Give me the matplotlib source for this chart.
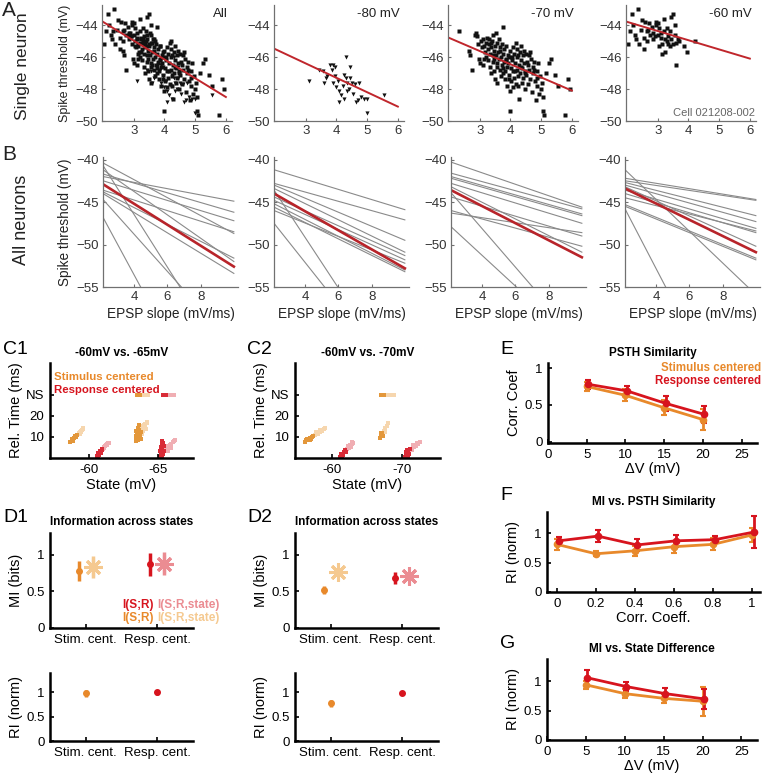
import matplotlib
matplotlib.use('Agg')
import matplotlib.pyplot as plt
import numpy as np

plt.rcParams['font.family'] = ['Liberation Sans', 'DejaVu Sans']

# ------------------------------------------------------------------ DATA
# Row A: single neuron scatter (EPSP slope, spike threshold)
x80 = [3.10, 3.45, 3.55, 3.60, 3.65, 3.80, 3.85, 3.90, 3.95, 3.70, 3.90, 4.00, 4.05, 4.10, 4.15, 4.20, 4.25,
       4.30, 4.30, 4.35, 4.40, 4.45, 4.45, 4.50, 4.55, 4.60, 4.65, 4.70, 4.75, 4.80, 4.90, 5.00, 5.00, 5.55,
       4.25, 4.10, 4.35, 3.95]
y80 = [-47.5, -46.8, -46.9, -47.6, -47.3, -46.5, -46.8, -46.5, -46.6, -47.2, -47.6, -47.9, -47.5, -48.1, -48.4,
       -47.8, -47.1, -47.3, -46.0, -47.6, -48.0, -46.6, -47.3, -47.6, -48.3, -47.7, -48.8, -48.7, -47.6, -48.5,
       -48.6, -49.5, -48.6, -48.4, -48.6, -48.8, -48.1, -47.2]

x70 = [2.33, 2.65, 2.70, 2.76, 2.85, 2.88, 2.90, 2.95, 2.98, 3.00,
       3.05, 3.08, 3.10, 3.12, 3.15, 3.18, 3.20, 3.22, 3.25, 3.27,
       3.28, 3.30, 3.32, 3.33, 3.35, 3.37, 3.38, 3.40, 3.42, 3.43,
       3.45, 3.47, 3.48, 3.50, 3.50,
       3.52, 3.53, 3.55, 3.57, 3.58, 3.60, 3.62, 3.63, 3.65, 3.67,
       3.68, 3.70, 3.72, 3.73, 3.75, 3.75, 3.77, 3.78, 3.80, 3.82,
       3.83, 3.85, 3.87, 3.88, 3.90, 3.92, 3.93, 3.95, 3.97, 3.98, 3.99,
       4.00, 4.02, 4.03, 4.05, 4.07, 4.08, 4.10, 4.12, 4.13, 4.15,
       4.17, 4.18, 4.20, 4.22, 4.23, 4.25, 4.27, 4.28, 4.30, 4.32,
       4.33, 4.35, 4.37, 4.38, 4.40, 4.42, 4.43, 4.45, 4.47, 4.48,
       4.50, 4.52, 4.55, 4.57, 4.60, 4.62, 4.65, 4.67, 4.70, 4.72,
       4.75, 4.78, 4.80, 4.83, 4.85, 4.88, 4.90, 4.92, 4.95, 4.98,
       5.02, 5.05, 5.07, 5.10, 5.15, 5.25, 5.32, 5.45, 5.55, 5.77, 5.88, 5.95,
       3.14, 3.36, 3.58, 3.66, 3.86, 3.94, 4.06, 4.16, 4.26, 4.36, 4.46, 4.56, 4.64, 4.76, 4.86, 3.46, 3.76, 4.24]
y70 = [-44.4, -45.6, -45.9, -46.8, -44.6, -44.5, -44.7, -45.2, -46.1, -46.4,
       -45.0, -45.4, -46.5, -44.9, -45.3, -45.7, -45.1, -46.0, -44.8, -45.5,
       -46.2, -45.2, -44.9, -45.8, -46.6, -45.4, -47.0, -45.0, -45.9, -46.3,
       -44.6, -45.6, -46.9, -45.3, -47.4,
       -44.5, -45.9, -46.4, -45.1, -47.6, -45.7, -46.1, -44.9, -46.8, -45.4,
       -47.2, -46.0, -45.2, -46.5, -44.1, -47.0, -45.8, -46.3, -45.5, -46.9,
       -47.4, -46.1, -45.3, -46.6, -47.8, -45.9, -46.4, -47.1, -46.0, -49.4, -48.1,
       -45.6, -46.7, -47.5, -46.2, -45.4, -47.9, -46.9, -45.8, -47.3, -46.4,
       -45.1, -47.7, -46.0, -46.8, -45.5, -47.2, -46.5, -48.6, -45.7, -47.0,
       -46.2, -45.3, -47.6, -46.7, -45.9, -47.3, -46.4, -45.6, -48.0, -46.9,
       -45.8, -47.1, -46.3, -47.7, -45.9, -46.8, -47.4, -46.1, -48.2, -46.6,
       -47.0, -46.3, -47.5, -48.7, -46.9, -47.8, -46.4, -48.3, -47.2, -48.0,
       -47.6, -48.5, -49.4, -49.6, -47.0, -46.4, -46.1, -47.1, -47.8, -49.6, -47.4, -48.0,
       -46.1, -45.1, -46.6, -45.6, -46.2, -47.4, -46.0, -46.9, -45.9, -46.6, -47.0, -46.5, -45.7, -46.8, -47.3,
       -46.1, -46.7, -47.8]

x60 = [2.05, 2.10, 2.15, 2.20, 2.25, 2.30, 2.35, 2.40, 2.45, 2.50, 2.55, 2.55, 2.60, 2.65, 2.70, 2.72, 2.75,
       2.80, 2.85, 2.90, 2.95, 3.00, 3.00, 3.05, 3.05, 3.10, 3.12, 3.15, 3.15, 3.20, 3.20, 3.25, 3.25, 3.30,
       3.30, 3.35, 3.40, 3.40, 3.45, 3.45, 3.50, 3.50, 3.55, 3.55, 3.60, 3.60, 3.65, 3.70, 3.85, 3.95, 4.20,
       2.85, 2.95, 3.35, 2.65]
y60 = [-45.2, -44.4, -43.3, -44.0, -44.6, -44.9, -43.0, -45.2, -44.3, -43.7, -45.5, -44.8, -43.8, -45.0, -44.3,
       -43.9, -44.6, -44.1, -44.5, -44.7, -43.8, -44.6, -43.9, -44.2, -45.3, -44.8, -44.5, -45.2, -45.8, -43.6,
       -44.4, -44.9, -45.7, -44.2, -45.0, -44.7, -44.4, -45.3, -43.5, -44.9, -43.3, -45.2, -44.0, -44.6, -45.1,
       -46.5, -44.9, -45.0, -45.3, -45.7, -45.0, -44.9, -44.0, -45.2, -44.4]

panelA_titles = ['All', '-80 mV', '-70 mV', '-60 mV']
fitA_x = [2, 6]
fitA_y0 = [-43.8, -45.5, -44.8, -43.8]
fitA_y1 = [-48.5, -49.1, -48.1, -46.1]

# Row B: population regression lines (threshold at slope xB0 and xB1)
xB0, xB1 = 2.12, 10.0
b_gray_start = [
    [-40.4, -40.7, -41.2, -41.7, -42.0, -42.5, -43.6, -44.0, -44.7, -46.8, -43.8],
    [-41.2, -42.8, -43.0, -43.4, -44.4, -44.8, -45.2, -45.6, -46.0, -47.5, -43.6],
    [-40.3, -41.6, -42.0, -42.2, -42.8, -43.2, -43.9, -44.4, -46.0, -46.3, -47.9],
    [-41.2, -42.2, -42.5, -42.7, -43.0, -43.6, -44.5, -45.3, -45.5, -45.8, -44.0, -43.2],
]
b_gray_end = [
    [-48.7, -65.0, -52.0, -46.2, -44.9, -47.2, -48.5, -53.4, -61.9, -75.3, -51.6],
    [-45.9, -47.1, -49.5, -50.9, -51.3, -51.8, -53.0, -53.2, -52.2, -66.9, -67.0],
    [-45.6, -45.8, -46.4, -46.6, -47.5, -50.9, -61.7, -49.0, -50.2, -48.6, -62.1],
    [-55.9, -44.7, -44.8, -46.6, -47.3, -48.1, -48.4, -51.6, -51.8, -75.4, -48.6, -50.2],
]
b_red_start = [-42.9, -44.0, -43.6, -43.4]
b_red_end = [-52.6, -52.8, -51.5, -50.9]

# C panels: state (mV) vs relative time (ms); NS plotted at 30
c1_or_dark_x = [-58.6, -58.7, -58.75, -58.8, -58.85, -58.9, -58.95, -59.0, -58.8, -59.05,
                -63.4, -63.45, -63.5, -63.4, -63.55, -63.6, -63.5, -63.45, -63.55, -63.6, -63.7, -63.65, -63.8, -63.75,
                -63.5, -63.7]
c1_or_dark_y = [7.8, 8.3, 8.8, 9.0, 9.5, 9.8, 10.3, 10.0, 8.0, 10.8,
                8.0, 9.0, 10.0, 10.5, 8.5, 9.5, 12.0, 13.0, 14.0, 15.5, 11.0, 13.5, 9.2, 12.5,
                30, 30]
c1_or_light_x = [-59.1, -59.2, -59.25, -59.3, -59.35, -59.4, -59.45, -59.5, -59.3, -59.55,
                 -63.8, -63.9, -64.0, -64.1, -64.2, -63.9, -64.0, -64.1, -63.85, -64.25, -64.15,
                 -63.9, -64.1, -64.3]
c1_or_light_y = [11.0, 11.6, 12.0, 12.5, 12.2, 13.0, 13.5, 13.8, 11.5, 14.2,
                 14.0, 15.0, 15.5, 16.0, 16.5, 13.0, 14.3, 15.2, 11.5, 17.0, 13.8,
                 30, 30, 30]
c1_rd_dark_x = [-60.55, -60.6, -60.65, -60.7, -60.75, -60.8, -60.85, -60.9, -60.6, -60.95,
                -65.2, -65.25, -65.3, -65.2, -65.35, -65.4, -65.3, -65.25, -65.35, -65.4, -65.3, -65.45, -65.5,
                -65.4, -65.6]
c1_rd_dark_y = [0.8, 1.5, 2.2, 1.2, 2.8, 3.3, 2.5, 3.8, 0.5, 4.2,
                0.5, 1.5, 2.5, 3.2, 1.0, 2.0, 4.0, 5.0, 6.0, 7.0, 8.0, 3.5, 5.5,
                30, 30]
c1_rd_light_x = [-61.0, -61.05, -61.1, -61.15, -61.2, -61.25, -61.3, -61.35, -61.1, -61.4,
                 -65.6, -65.7, -65.8, -65.9, -66.0, -66.1, -66.2, -66.3, -65.75, -65.95,
                 -65.8, -66.0, -66.2]
c1_rd_light_y = [4.5, 5.0, 4.8, 5.6, 6.0, 6.5, 6.2, 7.0, 5.4, 7.3,
                 4.0, 5.0, 5.5, 6.2, 6.8, 7.5, 8.0, 8.6, 3.2, 4.8,
                 30, 30, 30]

c2_or_dark_x = [-56.1, -56.3, -56.5, -56.7, -56.9, -57.1, -56.4, -56.8, -57.3, -57.0,
                -66.9, -67.0, -67.1, -67.0, -67.2, -67.1, -67.0, -67.4]
c2_or_dark_y = [7.8, 8.3, 8.8, 9.2, 9.6, 10.0, 9.2, 8.5, 10.4, 9.0,
                9.5, 10.2, 11.0, 12.0, 10.6, 11.8, 30, 30]
c2_or_light_x = [-57.5, -57.8, -58.0, -58.2, -58.5, -58.8, -57.7, -58.3, -59.0, -58.0,
                 -67.4, -67.6, -67.8, -68.0, -67.5, -67.9, -68.4, -68.8]
c2_or_light_y = [11.0, 11.5, 12.0, 12.5, 13.0, 13.8, 12.2, 13.2, 14.2, 11.2,
                 13.0, 14.0, 15.2, 16.5, 12.5, 30, 30, 30]
c2_rd_dark_x = [-61.1, -61.3, -61.5, -61.4, -61.7, -61.8, -61.6, -61.9, -61.2, -62.0,
                -70.4, -70.6, -70.8, -70.5, -71.0, -70.7, -71.1, -70.9]
c2_rd_dark_y = [0.6, 1.3, 2.0, 0.9, 2.8, 3.5, 1.6, 4.0, 1.8, 3.0,
                0.6, 1.4, 2.2, 3.0, 2.0, 3.8, 4.5, 0.9]
c2_rd_light_x = [-62.1, -62.3, -62.5, -62.6, -62.8, -63.0, -62.4, -62.7, -62.2, -62.9,
                 -71.4, -71.7, -72.0, -72.3, -72.6, -71.5, -72.1]
c2_rd_light_y = [4.3, 5.0, 5.5, 6.0, 6.6, 7.3, 4.6, 5.4, 5.7, 7.6,
                 4.0, 5.0, 5.6, 6.5, 7.5, 6.0, 7.2]

# D panels
d_cats = ['Stim. cent.', 'Resp. cent.']
d1_mi = [0.78, 0.83, 0.87, 0.88]          # I(S;R) stim, I(S;R,state) stim, I(S;R) resp, I(S;R,state) resp
d1_mi_err = [0.14, 0.15, 0.155, 0.155]
d2_mi = [0.52, 0.76, 0.68, 0.71]
d2_mi_err = [0.05, 0.05, 0.08, 0.05]
d1_ri = [0.985, 1.0]
d1_ri_err = [0.07, 0.045]
d2_ri = [0.775, 0.985]
d2_ri_err = [0.07, 0.03]

# E, F, G
dV = [5, 10, 15, 20]
e_stim = [0.75, 0.63, 0.46, 0.30]
e_stim_err = [0.06, 0.08, 0.10, 0.14]
e_resp = [0.78, 0.69, 0.52, 0.37]
e_resp_err = [0.06, 0.07, 0.10, 0.12]

cc = [0, 0.2, 0.4, 0.6, 0.8, 1.0]
f_stim = [0.81, 0.65, 0.70, 0.77, 0.81, 0.97]
f_stim_err = [0.09, 0.04, 0.09, 0.10, 0.10, 0.12]
f_resp = [0.87, 0.95, 0.80, 0.87, 0.89, 1.02]
f_resp_err = [0.06, 0.10, 0.10, 0.10, 0.06, 0.28]

g_stim = [0.94, 0.79, 0.71, 0.66]
g_stim_err = [0.07, 0.08, 0.08, 0.25]
g_resp = [1.06, 0.91, 0.79, 0.70]
g_resp_err = [0.14, 0.07, 0.09, 0.17]

# ------------------------------------------------------------------ FIGURE
W, H = 763, 774
fig = plt.figure(figsize=(W / 100, H / 100), dpi=100)


def ax_px(l, t, r, b):
    return fig.add_axes([l / W, 1 - b / H, (r - l) / W, (b - t) / H])


def ftxt(x, y, s, **kw):
    kw.setdefault('ha', 'left')
    kw.setdefault('va', 'center')
    fig.text(x / W, 1 - y / H, s, **kw)


GRAYAX = '#707070'


def style_top(ax):
    for s in ['top', 'right']:
        ax.spines[s].set_visible(False)
    for s in ['left', 'bottom']:
        ax.spines[s].set_color(GRAYAX)
        ax.spines[s].set_linewidth(0.9)
    ax.tick_params(direction='in', length=2.5, width=0.8, colors=GRAYAX,
                   labelcolor='#333333', labelsize=9.5, pad=3)


def style_bot(ax):
    for s in ['top', 'right']:
        ax.spines[s].set_visible(False)
    for s in ['left', 'bottom']:
        ax.spines[s].set_color('black')
        ax.spines[s].set_linewidth(1.8)
    ax.tick_params(direction='in', length=3, width=1.2, colors='black', labelsize=9.5, pad=4)


ORANGE = '#E8892B'
LORANGE = '#F5C990'
RED = '#D7141E'
PINK = '#EB8C92'
C_OR = '#E3973A'
C_LOR = '#F6D6AE'
C_RD = '#D92B37'
C_PK = '#F0AEB3'

# ---------------- Row A
A_lefts = [102, 274, 448, 626]
A_sets = [None, (x80, y80), (x70, y70), (x60, y60)]
MS_SQ = 2.3
MS_TRI = 3.0
for i, l in enumerate(A_lefts):
    ax = ax_px(l, 5, l + 130, 121)
    style_top(ax)
    if i == 0:
        ax.plot(x70, y70, 's', ms=MS_SQ, color='#111111', mec='none')
        ax.plot(x60, y60, 's', ms=MS_SQ, color='#111111', mec='none')
        ax.plot(x80, y80, 'v', ms=MS_TRI, color='#111111', mec='none')
    else:
        xs, ys = A_sets[i]
        if i == 1:
            ax.plot(xs, ys, 'v', ms=MS_TRI, color='#111111', mec='none')
        else:
            ax.plot(xs, ys, 's', ms=MS_SQ, color='#111111', mec='none')
    ax.plot(fitA_x, [fitA_y0[i], fitA_y1[i]], color='#C0262C', lw=1.4)
    ax.set_xlim(1.97, 6.2)
    ax.set_ylim(-50, -42.75)
    ax.set_xticks([3, 4, 5, 6])
    ax.set_yticks([-44, -46, -48, -50])
    ax.text(0.97, 0.92, panelA_titles[i], transform=ax.transAxes, ha='right', va='center',
            fontsize=9.5, color='#222222')
    if i == 0:
        ax.set_ylabel('Spike threshold (mV)', fontsize=9, color='#222222', labelpad=3)
    if i == 3:
        ax.text(0.99, 0.07, 'Cell 021208-002', transform=ax.transAxes, ha='right', va='center',
                fontsize=8, color='#666666')

ftxt(2, 11, 'A', fontsize=15, color='#222222')
ftxt(23, 66, 'Single neuron', fontsize=12.5, rotation=90, ha='center', color='#222222')

# ---------------- Row B
B_lefts = [103, 274, 451, 625]
for i, l in enumerate(B_lefts):
    ax = ax_px(l, 157, l + 135, 287)
    style_top(ax)
    for s0, s1 in zip(b_gray_start[i], b_gray_end[i]):
        ax.plot([xB0, xB1], [s0, s1], color='#8A8A8A', lw=0.8)
    ax.plot([xB0, xB1], [b_red_start[i], b_red_end[i]], color='#B8242A', lw=1.9)
    ax.set_xlim(xB0, 10.25)
    ax.set_ylim(-55, -39.7)
    ax.set_xticks([4, 6, 8])
    ax.set_yticks([-40, -45, -50, -55])
    ax.set_xlabel('EPSP slope (mV/ms)', fontsize=9.8, color='#222222', labelpad=3)
    if i == 0:
        ax.set_ylabel('Spike threshold (mV)', fontsize=9.8, color='#222222', labelpad=3)

ftxt(2, 155, 'B', fontsize=15, color='#222222')
ftxt(22, 220, 'All neurons', fontsize=13, rotation=90, ha='center', color='#222222')

# ---------------- C panels
C_S = 7


def c_panel(l, r, xlim, xt, title, odx, ody, olx, oly, rdx, rdy, rlx, rly, legend):
    ax = ax_px(l, 363, r, 458)
    style_bot(ax)
    ax.scatter(olx, oly, s=C_S, marker='s', color=C_LOR, lw=0)
    ax.scatter(odx, ody, s=C_S, marker='s', color=C_OR, lw=0)
    ax.scatter(rlx, rly, s=C_S, marker='s', color=C_PK, lw=0)
    ax.scatter(rdx, rdy, s=C_S, marker='s', color=C_RD, lw=0)
    ax.set_xlim(*xlim)
    ax.set_ylim(0, 45)
    ax.set_xticks(xt)
    ax.set_xticklabels([str(v) for v in xt])
    ax.set_yticks([10, 20, 30])
    ax.set_yticklabels(['10', '20', 'NS'])
    ax.set_xlabel('State (mV)', fontsize=10.5, labelpad=2)
    ax.set_ylabel('Rel. Time (ms)', fontsize=10.5, labelpad=2)
    ax.set_title(title, fontsize=8.5, fontweight='bold', pad=5)
    if legend:
        ax.text(0.03, 0.85, 'Stimulus centered', transform=ax.transAxes, color=ORANGE,
                fontsize=8.2, fontweight='bold', va='center')
        ax.text(0.03, 0.72, 'Response centered', transform=ax.transAxes, color=RED,
                fontsize=8.2, fontweight='bold', va='center')
    return ax


c_panel(50, 193, (-57.1, -67.6), [-60, -65], '-60mV vs. -65mV',
        c1_or_dark_x, c1_or_dark_y, c1_or_light_x, c1_or_light_y,
        c1_rd_dark_x, c1_rd_dark_y, c1_rd_light_x, c1_rd_light_y, True)
c_panel(295, 440, (-54.7, -75.4), [-60, -70], '-60mV vs. -70mV',
        c2_or_dark_x, c2_or_dark_y, c2_or_light_x, c2_or_light_y,
        c2_rd_dark_x, c2_rd_dark_y, c2_rd_light_x, c2_rd_light_y, False)
ftxt(3, 349, 'C1', fontsize=14)
ftxt(247, 349, 'C2', fontsize=14)

# ---------------- D panels
ast = (8, 2, 0)
D_MS = 4


def d_top(l, r, mi, err, legend):
    ax = ax_px(l, 533, r, 628)
    style_bot(ax)
    xs = [0.9, 1.1, 1.9, 2.1]
    cols = [ORANGE, LORANGE, RED, PINK]
    for k in range(4):
        if k % 2 == 0:
            ax.errorbar(xs[k], mi[k], yerr=err[k], fmt='o', ms=D_MS, color=cols[k], elinewidth=2.5, capsize=0)
        else:
            ax.errorbar(xs[k], mi[k], yerr=err[k], fmt='none', color=cols[k], elinewidth=2.5, capsize=0)
            ax.plot(xs[k], mi[k], marker=ast, ms=13, mew=2.2, color=cols[k], ls='none')
    ax.set_xlim(0.5, 2.5)
    ax.set_ylim(0, 1.3)
    ax.set_xticks([1, 2])
    ax.set_xticklabels(d_cats)
    ax.set_yticks([0, 0.5, 1])
    ax.set_yticklabels(['0', '0.5', '1'])
    ax.set_ylabel('MI (bits)', fontsize=10.5, labelpad=2)
    ax.set_title('Information across states', fontsize=8.5, fontweight='bold', pad=6)
    if legend:
        ax.text(0.505, 0.24, 'I(S;R)', transform=ax.transAxes, color=RED, fontsize=8.5, fontweight='bold', va='center')
        ax.text(0.75, 0.24, 'I(S;R,state)', transform=ax.transAxes, color=PINK, fontsize=8.5, fontweight='bold', va='center')
        ax.text(0.505, 0.10, 'I(S;R)', transform=ax.transAxes, color=ORANGE, fontsize=8.5, fontweight='bold', va='center')
        ax.text(0.75, 0.10, 'I(S;R,state)', transform=ax.transAxes, color=LORANGE, fontsize=8.5, fontweight='bold', va='center')


def d_bot(l, r, ri, err):
    ax = ax_px(l, 673, r, 741)
    style_bot(ax)
    cols = [ORANGE, RED]
    for k in range(2):
        ax.errorbar(k + 1, ri[k], yerr=err[k], fmt='o', ms=D_MS, color=cols[k], elinewidth=2.5, capsize=0)
    ax.set_xlim(0.5, 2.5)
    ax.set_ylim(0, 1.4)
    ax.set_xticks([1, 2])
    ax.set_xticklabels(d_cats)
    ax.set_yticks([0, 0.5, 1])
    ax.set_yticklabels(['0', '0.5', '1'])
    ax.set_ylabel('RI (norm)', fontsize=10.5, labelpad=2)


d_top(50, 193, d1_mi, d1_mi_err, True)
d_top(295, 438, d2_mi, d2_mi_err, False)
d_bot(50, 193, d1_ri, d1_ri_err)
d_bot(295, 438, d2_ri, d2_ri_err)
ftxt(3, 518, 'D1', fontsize=14)
ftxt(247, 518, 'D2', fontsize=14)


# ---------------- E, F, G
def line_panel(t, b, l, r, xs, s, se, rr, re, off, xlim, ylim, xt, xtl, xlabel, ylabel, title):
    ax = ax_px(l, t, r, b)
    style_bot(ax)
    ax.errorbar(xs, s, yerr=se, fmt='-o', color=ORANGE, lw=2, ms=4.5, elinewidth=2, capsize=2.5, capthick=1.5)
    ax.errorbar([v + off for v in xs], rr, yerr=re, fmt='-o', color=RED, lw=2, ms=4.5, elinewidth=2,
                capsize=2.5, capthick=1.5)
    ax.set_xlim(*xlim)
    ax.set_ylim(*ylim)
    ax.set_xticks(xt)
    ax.set_xticklabels(xtl)
    ax.set_yticks([0, 0.5, 1])
    ax.set_yticklabels(['0', '0.5', '1'])
    ax.set_xlabel(xlabel, fontsize=10.5, labelpad=1)
    ax.set_ylabel(ylabel, fontsize=10.5, labelpad=2)
    ax.set_title(title, fontsize=8.5, fontweight='bold', pad=5)
    return ax


line_panel(363, 443, 548, 757, dV, e_stim, e_stim_err, e_resp, e_resp_err, 0.2,
           (0, 27), (-0.02, 1.07), [0, 5, 10, 15, 20, 25], ['0', '5', '10', '15', '20', '25'],
           '\u0394V (mV)', 'Corr. Coef', 'PSTH Similarity')
ftxt(761, 368, 'Stimulus centered', ha='right', color=ORANGE, fontsize=8.3, fontweight='bold')
ftxt(761, 381, 'Response centered', ha='right', color=RED, fontsize=8.3, fontweight='bold')

line_panel(512, 592, 547, 760, cc, f_stim, f_stim_err, f_resp, f_resp_err, 0.01,
           (-0.05, 1.04), (0, 1.36), cc, ['0', '0.2', '0.4', '0.6', '0.8', '1'],
           'Corr. Coeff.', 'RI (norm)', 'MI vs. PSTH Similarity')
line_panel(659, 740, 547, 757, dV, g_stim, g_stim_err, g_resp, g_resp_err, 0.2,
           (0, 27), (0, 1.38), [0, 5, 10, 15, 20, 25], ['0', '5', '10', '15', '20', '25'],
           '\u0394V (mV)', 'RI (norm)', 'MI vs. State Difference')
ftxt(500, 349, 'E', fontsize=14)
ftxt(500, 495, 'F', fontsize=14)
ftxt(500, 643, 'G', fontsize=14)

fig.savefig('out.png', dpi=100)
